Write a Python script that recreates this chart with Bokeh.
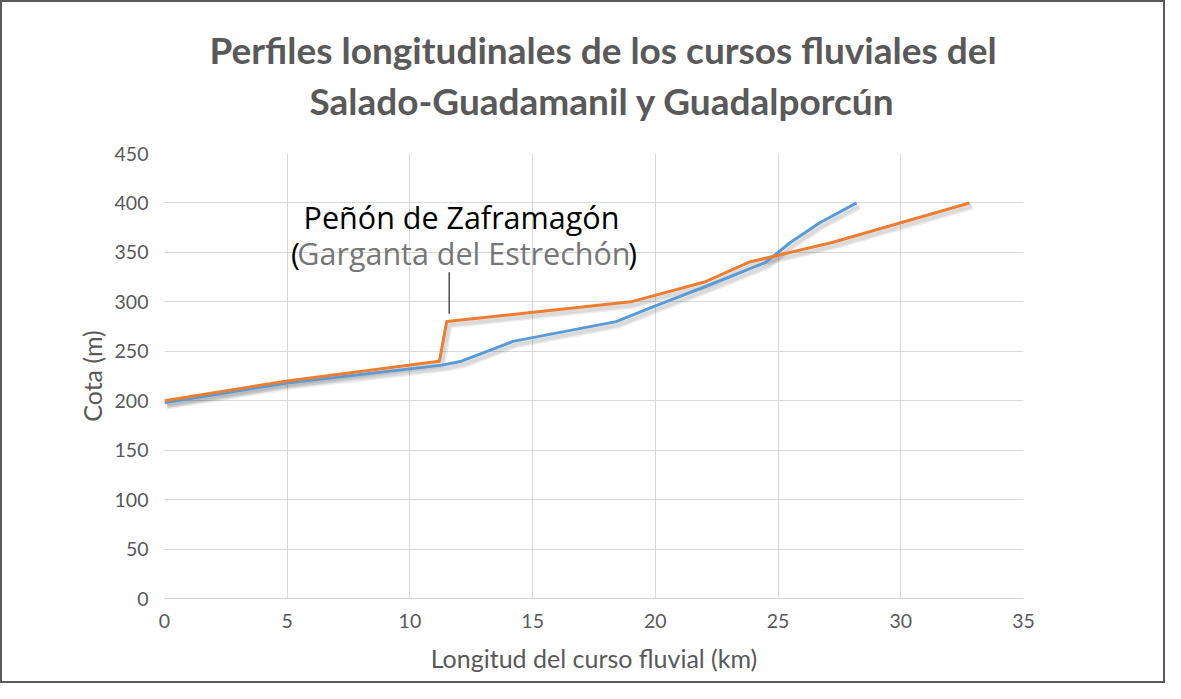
from bokeh.plotting import figure
from bokeh.models import Range1d, FixedTicker, Label, ColumnDataSource, Title
from bokeh.transform import dodge
from bokeh.embed import file_html
from bokeh.resources import INLINE

# --- data ---
salado_km = [0, 5, 11.3, 12.1, 14.2, 18.4, 20.0, 22.0, 24.5, 25.5, 26.7, 28.2]
salado_m = [198, 218, 236, 240, 260, 280, 296, 315, 340, 360, 380, 400]
guadal_km = [0, 5, 11.2, 11.5, 19.0, 22.0, 23.8, 27.2, 30.0, 32.8]
guadal_m = [200, 220, 240, 280, 300, 320, 340, 360, 380, 400]

x_ticks = [0, 5, 10, 15, 20, 25, 30, 35]
y_ticks = [0, 50, 100, 150, 200, 250, 300, 350, 400, 450]

title_lines = ["Perfiles longitudinales de los cursos fluviales del",
               "Salado-Guadamanil y Guadalporcún"]
x_label = "Longitud del curso fluvial (km)"
y_label = "Cota (m)"
note_title = "Peñón de Zaframagón"
note_sub = "Garganta del Estrechón"
note_km = [11.6]
note_top = [330]
note_bottom = [288]

GRAY = "#595959"
W, H = 1161, 679

p = figure(width=W, height=H, output_backend="svg", toolbar_location=None,
           x_range=Range1d(0, 35), y_range=Range1d(0, 450),
           min_border_left=162, min_border_right=144,
           min_border_top=151, min_border_bottom=87)
p.styles = {"border": "2px solid #5a5a5a", "box-sizing": "content-box"}
p.outline_line_color = None
p.background_fill_color = "white"
p.border_fill_color = "white"
p.title = None

# title lines: the first added goes next to the frame
title_standoff = [-54, 62]
title_offset = [45, 145]
for t, so, off in reversed(list(zip(title_lines, title_standoff, title_offset))):
    p.add_layout(Title(text=t, align="left", offset=off, standoff=so,
                       text_font="Lato", text_font_style="bold", text_font_size="37px",
                       text_color=GRAY), "above")

for ax in (p.xaxis, p.yaxis):
    ax.major_tick_line_color = None
    ax.minor_tick_line_color = None
    ax.major_tick_out = 0
    ax.major_tick_in = 0
    ax.minor_tick_out = 0
    ax.major_label_text_font = "Lato"
    ax.major_label_text_font_size = "19.5px"
    ax.major_label_text_color = GRAY
    ax.axis_label_text_font = "Lato"
    ax.axis_label_text_font_size = "25px"
    ax.axis_label_text_font_style = "normal"
    ax.axis_label_text_color = GRAY
p.xaxis.ticker = FixedTicker(ticks=x_ticks)
p.yaxis.ticker = FixedTicker(ticks=y_ticks)
p.xaxis.axis_line_color = "#d0d0d0"
p.yaxis.axis_line_color = None
p.xaxis.major_label_standoff = 15
p.yaxis.major_label_standoff = 16
p.xaxis.axis_label = x_label
p.yaxis.axis_label = y_label
p.xaxis.axis_label_standoff = 12
p.yaxis.axis_label_standoff = 5

p.xgrid.ticker = FixedTicker(ticks=x_ticks)
p.ygrid.ticker = FixedTicker(ticks=y_ticks)
p.grid.grid_line_color = "#d9d9d9"
p.grid.grid_line_width = 1

s1 = ColumnDataSource(dict(km=salado_km, m=salado_m))
s2 = ColumnDataSource(dict(km=guadal_km, m=guadal_m))

# soft shadows
for src in (s1, s2):
    p.line(x=dodge("km", 0.1, range=p.x_range), y=dodge("m", -3.5, range=p.y_range),
           source=src, line_color="black", line_alpha=0.07, line_width=7)
    p.line(x=dodge("km", 0.1, range=p.x_range), y=dodge("m", -3.5, range=p.y_range),
           source=src, line_color="black", line_alpha=0.08, line_width=4)

p.line("km", "m", source=s1, line_color="#5b9bd5", line_width=3, line_join="round")
p.line("km", "m", source=s2, line_color="#ed7d31", line_width=3, line_join="round")

# annotation
FS = "30.5px"
p.segment(x0=note_km, y0=note_bottom, x1=note_km, y1=note_top, line_color="#222222", line_width=1.2)
p.add_layout(Label(x=12.1, y=386, text=note_title, text_align="center", text_baseline="middle",
                   text_font="Open Sans", text_font_size=FS, text_color="#000000"))
p.add_layout(Label(x=12.2, y=349, text=note_sub, text_align="center", text_baseline="middle",
                   text_font="Open Sans", text_font_size=FS, text_color="#767676"))
p.add_layout(Label(x=12.2, y=349, x_offset=-164, text="(", text_align="right", text_baseline="middle",
                   text_font="Open Sans", text_font_size=FS, text_color="#000000"))
p.add_layout(Label(x=12.2, y=349, x_offset=164, text=")", text_align="left", text_baseline="middle",
                   text_font="Open Sans", text_font_size=FS, text_color="#000000"))

open("out.html", "w").write(file_html(p, INLINE))
